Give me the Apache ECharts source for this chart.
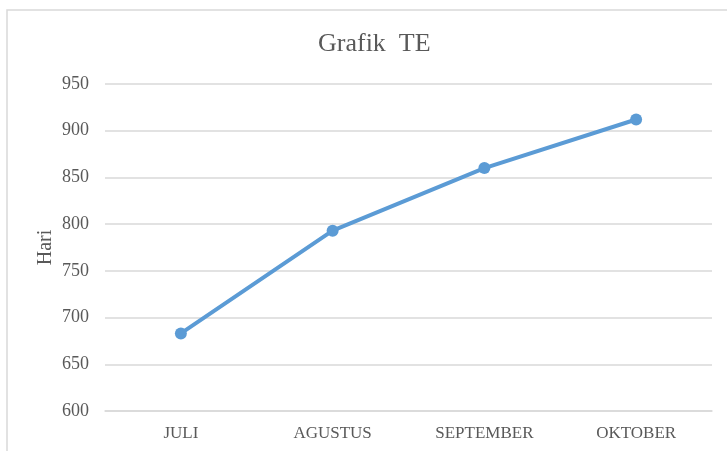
<!DOCTYPE html>
<html>
<head>
<meta charset="utf-8">
<script src="https://cdn.jsdelivr.net/npm/echarts@6/dist/echarts.min.js"></script>
<style>
  html, body { margin: 0; padding: 0; background: #fff; }
  #chart { width: 727px; height: 451px; }
</style>
</head>
<body>
<div id="chart"></div>
<script>
const months = ['JULI', 'AGUSTUS', 'SEPTEMBER', 'OKTOBER'];
const hari = [683, 793, 860, 912];
const yMin = 600, yMax = 950, yStep = 50;

const font = '"Liberation Serif", "Times New Roman", serif';
const textColor = '#595959';

const chart = echarts.init(document.getElementById('chart'));
chart.setOption({
  animation: false,
  title: {
    text: 'Grafik  TE',
    left: 313,
    top: 26,
    textStyle: { fontFamily: font, fontSize: 26, fontWeight: 'normal', color: textColor }
  },
  graphic: [{
    type: 'rect',
    shape: { x: 7, y: 10, width: 740, height: 460 },
    style: { fill: 'none', stroke: '#d9d9d9', lineWidth: 1.5 },
    silent: true
  }],
  grid: { left: 105, right: 15, top: 84, bottom: 40 },
  xAxis: {
    type: 'category',
    data: months,
    axisLine: { lineStyle: { color: '#d9d9d9', width: 1.5 } },
    axisTick: { show: false },
    axisLabel: { color: textColor, fontFamily: font, fontSize: 17, margin: 14 }
  },
  yAxis: {
    type: 'value',
    min: yMin,
    max: yMax,
    interval: yStep,
    name: 'Hari',
    nameLocation: 'middle',
    nameGap: 49,
    nameMoveOverlap: false,
    nameTextStyle: { color: textColor, fontFamily: font, fontSize: 20 },
    axisLine: { show: false },
    axisTick: { show: false },
    splitLine: { lineStyle: { color: '#d9d9d9', width: 1.5 } },
    axisLabel: { color: textColor, fontFamily: font, fontSize: 18, margin: 16 }
  },
  series: [{
    type: 'line',
    data: hari,
    symbol: 'circle',
    symbolSize: 12,
    lineStyle: { color: '#5b9bd5', width: 4 },
    itemStyle: { color: '#5b9bd5' }
  }]
});
</script>
</body>
</html>
